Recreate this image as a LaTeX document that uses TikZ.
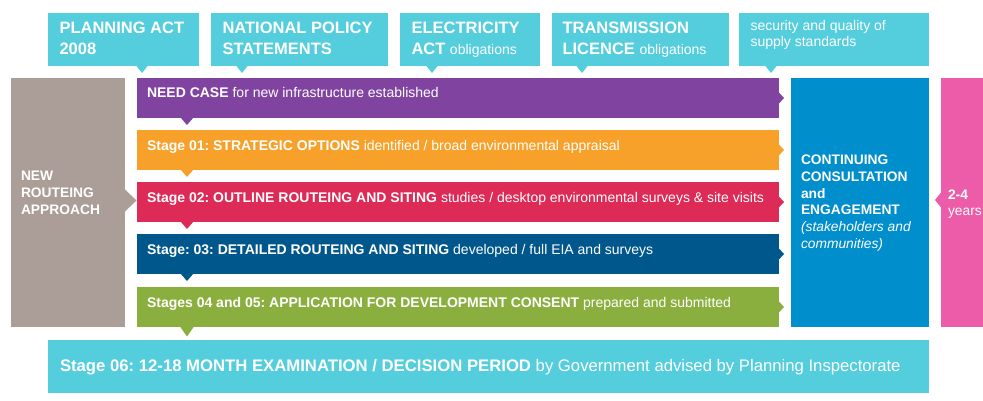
\documentclass[tikz,border=0pt]{standalone}
\usepackage{fontspec}
\setmainfont{Liberation Sans}
\frenchspacing
\usetikzlibrary{calc}
\definecolor{cyanc}{HTML}{54CEDD}
\definecolor{purplec}{HTML}{8044A0}
\definecolor{greyc}{HTML}{AB9E98}
\definecolor{orangec}{HTML}{F8A12A}
\definecolor{redc}{HTML}{DE2A56}
\definecolor{dbluec}{HTML}{00578C}
\definecolor{greenc}{HTML}{8BAF3E}
\definecolor{bluec}{HTML}{008ECC}
\definecolor{pinkc}{HTML}{EC5CA8}
\begin{document}
\frenchspacing
\begin{tikzpicture}[x=1pt,y=-1pt,
  blk/.style={anchor=north west, inner sep=0pt, outer sep=0pt, draw=none},
  txt/.style={text=white, inner sep=0pt, outer sep=0pt, align=left},
  hd/.style={txt, anchor=north west, font=\fontsize{16.5}{20.5}\selectfont},
  smt/.style={txt, anchor=north west, font=\fontsize{14}{16}\selectfont},
  stg/.style={txt, anchor=base west, font=\fontsize{14}{16}\selectfont},
  side/.style={txt, anchor=north west, font=\fontsize{13.8}{16.7}\selectfont}
]
\useasboundingbox (0,0) rectangle (983,401);

% top boxes
\node[blk, fill=cyanc, minimum width=151pt, minimum height=53pt] (pa) at (48,13) {};
\node[blk, fill=cyanc, minimum width=177pt, minimum height=53pt] (nps) at (211,13) {};
\node[blk, fill=cyanc, minimum width=140pt, minimum height=53pt] (ea) at (400,13) {};
\node[blk, fill=cyanc, minimum width=177pt, minimum height=53pt] (tl) at (552,13) {};
\node[blk, fill=cyanc, minimum width=190pt, minimum height=53pt] (ss) at (739,13) {};
\fill[cyanc] (136,65.5) -- (142,73) -- (148,65.5) -- cycle;
\fill[cyanc] (236,65.5) -- (242,73) -- (248,65.5) -- cycle;
\fill[cyanc] (426,65.5) -- (432,73) -- (438,65.5) -- cycle;
\fill[cyanc] (576,65.5) -- (582,73) -- (588,65.5) -- cycle;
\fill[cyanc] (765,65.5) -- (771,73) -- (777,65.5) -- cycle;
\node[hd] (pat) at (59.5,22) {\bfseries PLANNING ACT\\\bfseries 2008};
\node[hd] (npst) at (222.5,22) {\bfseries NATIONAL POLICY\\\bfseries STATEMENTS};
\node[hd] (eat) at (411.5,22) {\bfseries ELECTRICITY\\\textbf{ACT} {\fontsize{14}{16}\selectfont obligations}};
\node[hd] (tlt) at (562.5,22) {\bfseries TRANSMISSION\\\textbf{LICENCE} {\fontsize{14}{16}\selectfont obligations}};
\node[smt] (sst) at (750.5,20) {security and quality of\\supply standards};

% grey box
\node[blk, fill=greyc, minimum width=114pt, minimum height=249pt] (nra) at (11,78) {};
\fill[greyc] (124.5,189) -- (136.5,200.5) -- (124.5,212) -- cycle;
\node[side] (nrat) at (21,171.5) {\bfseries NEW\\\bfseries ROUTEING\\\bfseries APPROACH};

% stage bars
\node[blk, fill=purplec, minimum width=642pt, minimum height=40pt] (nc) at (137,78) {};
\node[blk, fill=orangec, minimum width=642pt, minimum height=40pt] (s1) at (137,130) {};
\node[blk, fill=redc, minimum width=642pt, minimum height=40pt] (s2) at (137,182) {};
\node[blk, fill=dbluec, minimum width=642pt, minimum height=40pt] (s3) at (137,234) {};
\node[blk, fill=greenc, minimum width=642pt, minimum height=40pt] (s45) at (137,287) {};
% down pointers
\fill[purplec] (180.5,117.5) -- (187,125) -- (193.5,117.5) -- cycle;
\fill[orangec] (180.5,169.5) -- (187,177) -- (193.5,169.5) -- cycle;
\fill[redc] (180.5,221.5) -- (187,229) -- (193.5,221.5) -- cycle;
\fill[dbluec] (180.5,273.5) -- (187,281) -- (193.5,273.5) -- cycle;
\fill[greenc] (180,326.5) -- (187,336.5) -- (194,326.5) -- cycle;
% right pointers
\fill[purplec] (778.5,92) -- (784,98) -- (778.5,104) -- cycle;
\fill[orangec] (778.5,144) -- (784,150) -- (778.5,156) -- cycle;
\fill[redc] (778.5,196) -- (784,202) -- (778.5,208) -- cycle;
\fill[dbluec] (778.5,248) -- (784,254) -- (778.5,260) -- cycle;
\fill[greenc] (778.5,301) -- (784,307) -- (778.5,313) -- cycle;
\node[stg] (nct) at (147,97.5) {\textbf{NEED CASE} for new infrastructure established};
\node[stg] (s1t) at (147,150) {\textbf{Stage 01: STRATEGIC OPTIONS} identified / broad environmental appraisal};
\node[stg] (s2t) at (147,202) {\textbf{Stage 02: OUTLINE ROUTEING AND SITING} studies / desktop environmental surveys \& site visits};
\node[stg] (s3t) at (147,254) {\textbf{Stage: 03: DETAILED ROUTEING AND SITING} developed / full EIA and surveys};
\node[stg] (s45t) at (147,307) {\textbf{Stages 04 and 05: APPLICATION FOR DEVELOPMENT CONSENT} prepared and submitted};

% consultation
\node[blk, fill=bluec, minimum width=138pt, minimum height=249pt] (cce) at (791,78) {};
\node[side] (ccet) at (801,155) {\bfseries CONTINUING\\\bfseries CONSULTATION\\\bfseries and\\\bfseries ENGAGEMENT\\\itshape (stakeholders and\\\itshape communities)};

% pink
\node[blk, fill=pinkc, minimum width=42pt, minimum height=249pt] (yrs) at (941,78) {};
\fill[pinkc] (941.5,192) -- (935,200) -- (941.5,208) -- cycle;
\node[side] (yrst) at (948,189.5) {\bfseries 2-4\\years};

% stage 06
\node[blk, fill=cyanc, minimum width=881pt, minimum height=53pt] (s6) at (48,340) {};
\node[txt, anchor=base west, font=\fontsize{16.7}{20}\selectfont] (s6t) at (60,371) {\textbf{Stage 06: 12-18 MONTH EXAMINATION / DECISION PERIOD} by Government advised by Planning Inspectorate};
\end{tikzpicture}
\end{document}
